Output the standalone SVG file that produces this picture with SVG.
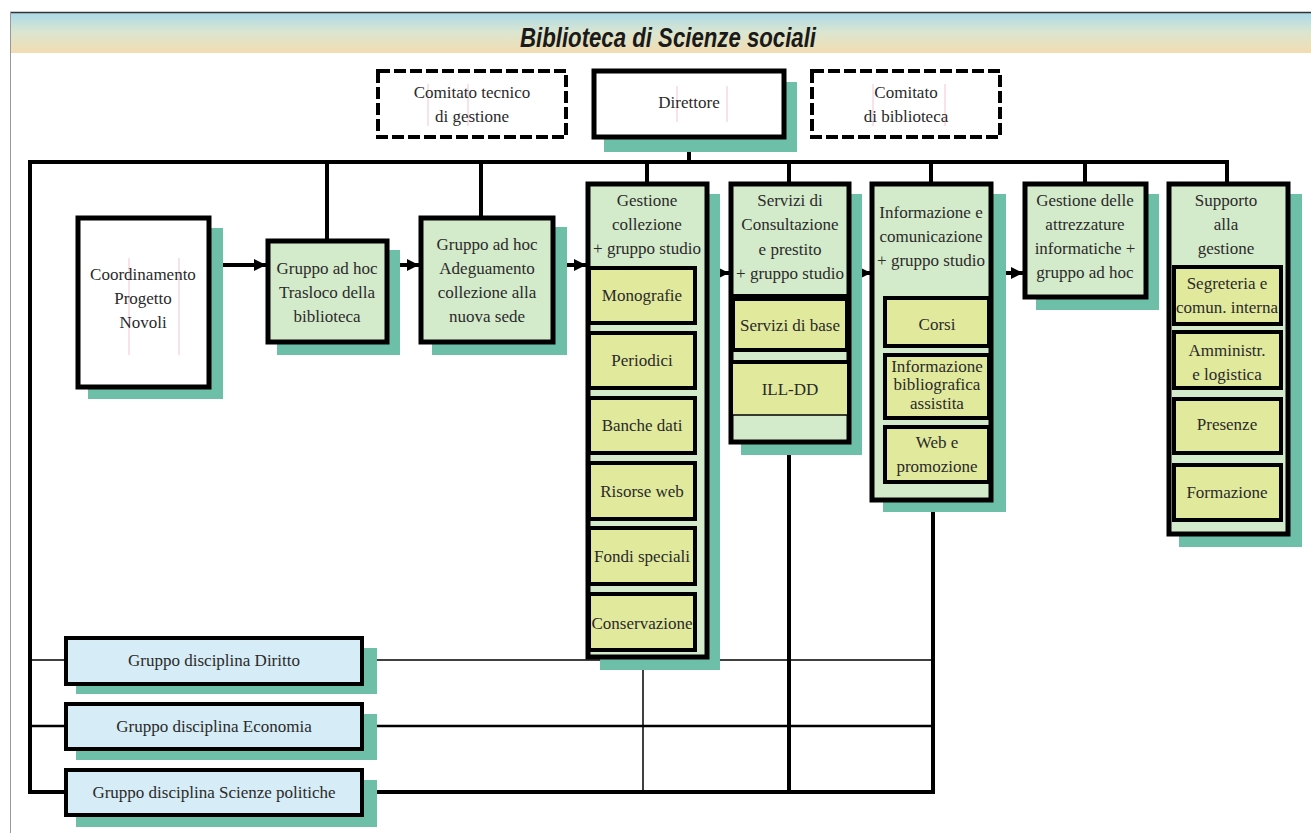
<svg xmlns="http://www.w3.org/2000/svg" width="1311" height="833" viewBox="0 0 1311 833">
<defs>
<linearGradient id="hdr" x1="0" y1="0" x2="0" y2="1">
<stop offset="0" stop-color="#a9d9ea"/>
<stop offset="0.5" stop-color="#dbe6cf"/>
<stop offset="1" stop-color="#f2dcb2"/>
</linearGradient>
<marker id="arr" markerUnits="userSpaceOnUse" markerWidth="14" markerHeight="14" refX="12" refY="7" orient="auto">
<path d="M0,1 L12,7 L0,13 Z" fill="#000"/>
</marker>
<style>
.box{stroke:#000;stroke-width:5}
.white{fill:#fff}
.green{fill:#d4ebcb}
.sub{fill:#e1e99c;stroke:#000;stroke-width:4}
.blue{fill:#d6ecf6;stroke:#000;stroke-width:4}
.dash{fill:#fff;stroke:#000;stroke-width:4;stroke-dasharray:12 4}
.shadow{fill:#6dbfa7}
.t{font-family:"Liberation Serif","Times New Roman",serif;font-size:17px;fill:#2a2a2a;text-anchor:middle}
.pink{stroke:#f4c6d0;stroke-width:1}
.c{stroke:#000;fill:none}
</style>
</defs>
<rect width="1311" height="833" fill="#fff"/>
<g id="header">
<rect x="10" y="12" width="1301" height="41" fill="url(#hdr)"/>
<line x1="10" y1="12.5" x2="1311" y2="12.5" stroke="#333" stroke-width="1.5"/>
<line x1="10.5" y1="12" x2="10.5" y2="833" stroke="#999" stroke-width="1"/>
<text x="668" y="47" font-family="Liberation Sans, Arial, sans-serif" font-size="28" font-weight="bold" font-style="italic" fill="#1a1a1a" text-anchor="middle" textLength="296" lengthAdjust="spacingAndGlyphs">Biblioteca di Scienze sociali</text>
</g>
<g id="connectors">
<polyline class="c" stroke-width="4" points="1227,184 1227,162 30,162 30,792 933,792 933,501"/>
<line class="c" stroke-width="4" x1="689" y1="137" x2="689" y2="162"/>
<line class="c" stroke-width="4" x1="327" y1="162" x2="327" y2="240"/>
<line class="c" stroke-width="4" x1="481" y1="162" x2="481" y2="216"/>
<line class="c" stroke-width="4" x1="647" y1="162" x2="647" y2="184"/>
<line class="c" stroke-width="4" x1="789" y1="162" x2="789" y2="184"/>
<line class="c" stroke-width="4" x1="931" y1="162" x2="931" y2="184"/>
<line class="c" stroke-width="4" x1="1085" y1="162" x2="1085" y2="184"/>
<line class="c" stroke-width="4" x1="789" y1="443" x2="789" y2="792"/>
<line class="c" stroke-width="1.5" x1="643" y1="652" x2="643" y2="792"/>
<line class="c" stroke-width="1.5" x1="30" y1="660" x2="933" y2="660"/>
<line class="c" stroke-width="2.5" x1="30" y1="726" x2="933" y2="726"/>
<line class="c" stroke-width="4" x1="210" y1="265" x2="266" y2="265" marker-end="url(#arr)"/>
<line class="c" stroke-width="4" x1="388" y1="265" x2="419" y2="265" marker-end="url(#arr)"/>
<line class="c" stroke-width="4" x1="553" y1="265" x2="586" y2="265" marker-end="url(#arr)"/>
<line class="c" stroke-width="4" x1="707" y1="273" x2="729" y2="273" marker-end="url(#arr)"/>
<line class="c" stroke-width="4" x1="849" y1="273" x2="871" y2="273" marker-end="url(#arr)"/>
<line class="c" stroke-width="4" x1="992" y1="273" x2="1023" y2="273" marker-end="url(#arr)"/>
</g>
<g id="comitato-tecnico">
<rect class="dash" x="378" y="71" width="188" height="66"/>
<line class="pink" x1="428" y1="84" x2="428" y2="126"/>
<line class="pink" x1="468" y1="84" x2="468" y2="126"/>
<text class="t" x="472" y="98">Comitato tecnico</text>
<text class="t" x="472" y="122">di gestione</text>
</g>
<g id="direttore">
<rect class="shadow" x="604" y="82" width="193" height="70"/>
<rect class="box white" x="594" y="71" width="190" height="66"/>
<line class="pink" x1="677" y1="86" x2="677" y2="122"/>
<line class="pink" x1="727" y1="86" x2="727" y2="122"/>
<text class="t" x="689" y="108">Direttore</text>
</g>
<g id="comitato-biblioteca">
<rect class="dash" x="812" y="71" width="188" height="66"/>
<line class="pink" x1="873" y1="84" x2="873" y2="126"/>
<line class="pink" x1="945" y1="84" x2="945" y2="126"/>
<text class="t" x="906" y="98">Comitato</text>
<text class="t" x="906" y="122">di biblioteca</text>
</g>
<g id="coordinamento">
<rect class="shadow" x="88" y="228" width="135" height="171"/>
<rect class="box white" x="78" y="218" width="131" height="169"/>
<line class="pink" x1="129" y1="258" x2="129" y2="355"/>
<line class="pink" x1="179" y1="258" x2="179" y2="355"/>
<text class="t" x="143" y="280">Coordinamento</text>
<text class="t" x="143" y="304">Progetto</text>
<text class="t" x="143" y="328">Novoli</text>
</g>
<g id="trasloco">
<rect class="shadow" x="277" y="250" width="123" height="105"/>
<rect class="box green" x="268" y="241" width="119" height="101"/>
<text class="t" x="327" y="274">Gruppo ad hoc</text>
<text class="t" x="327" y="298">Trasloco della</text>
<text class="t" x="327" y="322">biblioteca</text>
</g>
<g id="adeguamento">
<rect class="shadow" x="432" y="227" width="135" height="128"/>
<rect class="box green" x="421" y="218" width="132" height="124"/>
<text class="t" x="487" y="250">Gruppo ad hoc</text>
<text class="t" x="487" y="274">Adeguamento</text>
<text class="t" x="487" y="298">collezione alla</text>
<text class="t" x="487" y="322">nuova sede</text>
</g>
<g id="gestione-collezione">
<rect class="shadow" x="600" y="194" width="120" height="476"/>
<rect class="box green" x="588" y="184" width="119" height="473"/>
<text class="t" x="647" y="206">Gestione</text>
<text class="t" x="647" y="230">collezione</text>
<text class="t" x="647" y="254">+ gruppo studio</text>
<rect class="sub" x="589" y="268" width="106" height="55"/>
<text class="t" x="642" y="301">Monografie</text>
<rect class="sub" x="589" y="333" width="106" height="55"/>
<text class="t" x="642" y="366">Periodici</text>
<rect class="sub" x="589" y="398" width="106" height="55"/>
<text class="t" x="642" y="431">Banche dati</text>
<rect class="sub" x="589" y="463" width="106" height="56"/>
<text class="t" x="642" y="497">Risorse web</text>
<rect class="sub" x="589" y="528" width="106" height="56"/>
<text class="t" x="642" y="562">Fondi speciali</text>
<rect class="sub" x="589" y="594" width="106" height="56"/>
<text class="t" x="642" y="629">Conservazione</text>
</g>
<g id="servizi">
<rect class="shadow" x="741" y="194" width="121" height="261"/>
<rect class="box green" x="731" y="184" width="118" height="258"/>
<text class="t" x="790" y="206">Servizi di</text>
<text class="t" x="790" y="230">Consultazione</text>
<text class="t" x="790" y="255">e prestito</text>
<text class="t" x="790" y="279">+ gruppo studio</text>
<line class="c" stroke-width="4" x1="731" y1="296" x2="849" y2="296"/>
<rect class="sub" x="733" y="299" width="114" height="51"/>
<text class="t" x="790" y="331">Servizi di base</text>
<rect x="733" y="362" width="114" height="53" fill="#e1e99c"/>
<line class="c" stroke-width="4" x1="733" y1="362" x2="847" y2="362"/>
<line class="c" stroke-width="1.5" x1="733" y1="415" x2="847" y2="415"/>
<text class="t" x="790" y="395">ILL-DD</text>
</g>
<g id="informazione">
<rect class="shadow" x="883" y="194" width="123" height="318"/>
<rect class="box green" x="872" y="184" width="119" height="316"/>
<text class="t" x="931" y="218">Informazione e</text>
<text class="t" x="931" y="242">comunicazione</text>
<text class="t" x="931" y="266">+ gruppo studio</text>
<rect class="sub" x="885" y="298" width="104" height="48"/>
<text class="t" x="937" y="330">Corsi</text>
<rect class="sub" x="885" y="355" width="104" height="63"/>
<text class="t" x="937" y="372">Informazione</text>
<text class="t" x="937" y="390">bibliografica</text>
<text class="t" x="937" y="409">assistita</text>
<rect class="sub" x="885" y="427" width="104" height="55"/>
<text class="t" x="937" y="448">Web e</text>
<text class="t" x="937" y="472">promozione</text>
</g>
<g id="attrezzature">
<rect class="shadow" x="1036" y="194" width="123" height="116"/>
<rect class="box green" x="1025" y="184" width="121" height="113"/>
<text class="t" x="1085" y="206">Gestione delle</text>
<text class="t" x="1085" y="230">attrezzature</text>
<text class="t" x="1085" y="254">informatiche +</text>
<text class="t" x="1085" y="278">gruppo ad hoc</text>
</g>
<g id="supporto">
<rect class="shadow" x="1179" y="194" width="123" height="353"/>
<rect class="box green" x="1169" y="184" width="119" height="350"/>
<text class="t" x="1226" y="206">Supporto</text>
<text class="t" x="1226" y="230">alla</text>
<text class="t" x="1226" y="254">gestione</text>
<rect class="sub" x="1174" y="267" width="107" height="57"/>
<text class="t" x="1227" y="289">Segreteria e</text>
<text class="t" x="1227" y="313">comun. interna</text>
<rect class="sub" x="1174" y="332" width="107" height="56"/>
<text class="t" x="1227" y="356">Amministr.</text>
<text class="t" x="1227" y="380">e logistica</text>
<rect class="sub" x="1174" y="399" width="107" height="54"/>
<text class="t" x="1227" y="430">Presenze</text>
<rect class="sub" x="1174" y="465" width="107" height="55"/>
<text class="t" x="1227" y="498">Formazione</text>
</g>
<g id="diritto">
<rect class="shadow" x="76" y="648" width="301" height="46"/>
<rect class="blue" x="66" y="638" width="296" height="46"/>
<text class="t" x="214" y="666">Gruppo disciplina Diritto</text>
</g>
<g id="economia">
<rect class="shadow" x="76" y="714" width="301" height="46"/>
<rect class="blue" x="66" y="704" width="296" height="45"/>
<text class="t" x="214" y="732">Gruppo disciplina Economia</text>
</g>
<g id="scienze-politiche">
<rect class="shadow" x="76" y="780" width="301" height="47"/>
<rect class="blue" x="66" y="770" width="296" height="45"/>
<text class="t" x="214" y="798">Gruppo disciplina Scienze politiche</text>
</g>
</svg>
